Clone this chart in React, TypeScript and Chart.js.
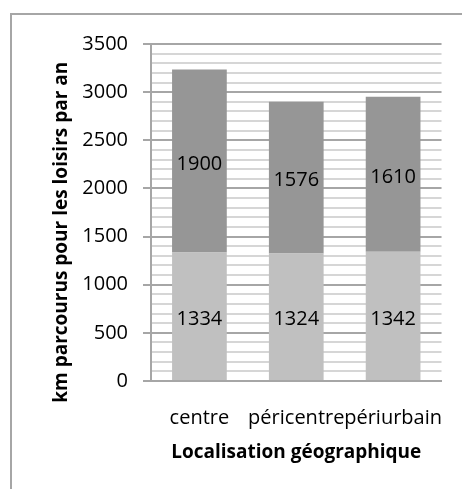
import React, { useEffect, useRef } from "react";
import { Chart, registerables } from "chart.js";

Chart.register(...registerables);

const categories = ["centre", "péricentre", "périurbain"];
const lowerValues = [1334, 1324, 1342];
const upperValues = [1900, 1576, 1610];
const yMin = 0;
const yMax = 3500;
const yStep = 100;
const yLabelStep = 500;

const barLabels = {
  id: "barLabels",
  afterDatasetsDraw(chart: any) {
    const ctx = chart.ctx;
    ctx.save();
    ctx.font = "20px 'Open Sans'";
    ctx.fillStyle = "#000";
    ctx.textAlign = "center";
    ctx.textBaseline = "middle";
    chart.data.datasets.forEach((ds: any, di: number) => {
      const meta = chart.getDatasetMeta(di);
      meta.data.forEach((el: any, i: number) => {
        const y = (el.y + el.base) / 2 + 3;
        ctx.fillText(String(ds.data[i]), el.x, y);
      });
    });
    ctx.restore();
  },
};

export default function App() {
  const ref = useRef<HTMLCanvasElement>(null);
  useEffect(() => {
    if (!ref.current) return;
    Chart.defaults.font.family = "'Open Sans'";
    const chart = new Chart(ref.current, {
      type: "bar",
      data: {
        labels: categories,
        datasets: [
          {
            label: "bas",
            data: lowerValues,
            backgroundColor: "#c0c0c0",
            borderWidth: 0,
            categoryPercentage: 1,
            barPercentage: 0.565,
          },
          {
            label: "haut",
            data: upperValues,
            backgroundColor: "#969696",
            borderWidth: 0,
            categoryPercentage: 1,
            barPercentage: 0.565,
          },
        ],
      },
      options: {
        responsive: false,
        animation: false,
        layout: { padding: { top: 44, right: 18, left: 0, bottom: 0 } },
        plugins: { legend: { display: false }, tooltip: { enabled: false } },
        scales: {
          x: {
            stacked: true,
            grid: { display: false },
            border: { display: true, color: "#a6a6a6", width: 2 },
            ticks: {
              autoSkip: false,
              maxRotation: 0,
              minRotation: 0,
              padding: 17,
              color: "#000",
              font: { size: 20, family: "'Open Sans'", lineHeight: 1.2 },
            },
            title: {
              display: true,
              text: "Localisation géographique",
              color: "#000",
              font: { size: 19, weight: "bold", family: "'Open Sans'", lineHeight: 1.2 },
              padding: { top: 0, bottom: 24.6 },
            },
            afterFit(scale: any) {
              scale.height = 108;
            },
          },
          y: {
            stacked: true,
            min: yMin,
            max: yMax,
            grid: {
              color: (c: any) => (c.tick && c.tick.value % yLabelStep === 0 ? "#a6a6a6" : "#d6d6d6"),
              tickColor: (c: any) => (c.tick && c.tick.value % yLabelStep === 0 ? "#a6a6a6" : "rgba(0,0,0,0)"),
              lineWidth: 2,
              tickLength: 8,
            },
            border: { display: true, color: "#a6a6a6", width: 2 },
            ticks: {
              stepSize: yStep,
              autoSkip: false,
              padding: 15,
              color: "#000",
              font: { size: 20, family: "'Open Sans'", lineHeight: 1.2 },
              callback: (v: any) => (Number(v) % yLabelStep === 0 ? String(v) : ""),
            },
            title: {
              display: true,
              text: "km parcourus pour les loisirs par an        ",
              color: "#000",
              font: { size: 19, weight: "bold", family: "'Open Sans'", lineHeight: 1.2 },
              padding: { top: 50.6, bottom: 0 },
            },
            afterFit(scale: any) {
              scale.width = 151;
            },
          },
        },
      },
      plugins: [barLabels],
    });
    return () => chart.destroy();
  }, []);

  return (
    <div
      style={{
        position: "fixed",
        left: 0,
        top: 0,
        width: 462,
        height: 489,
        overflow: "hidden",
        background: "#fff",
      }}
    >
      <div
        style={{
          position: "absolute",
          left: 10,
          top: 13,
          width: 480,
          height: 500,
          border: "2px solid #a6a6a6",
          boxSizing: "border-box",
        }}
      />
      <canvas ref={ref} width={462} height={489} style={{ position: "absolute", left: 0, top: 0 }} />
    </div>
  );
}
